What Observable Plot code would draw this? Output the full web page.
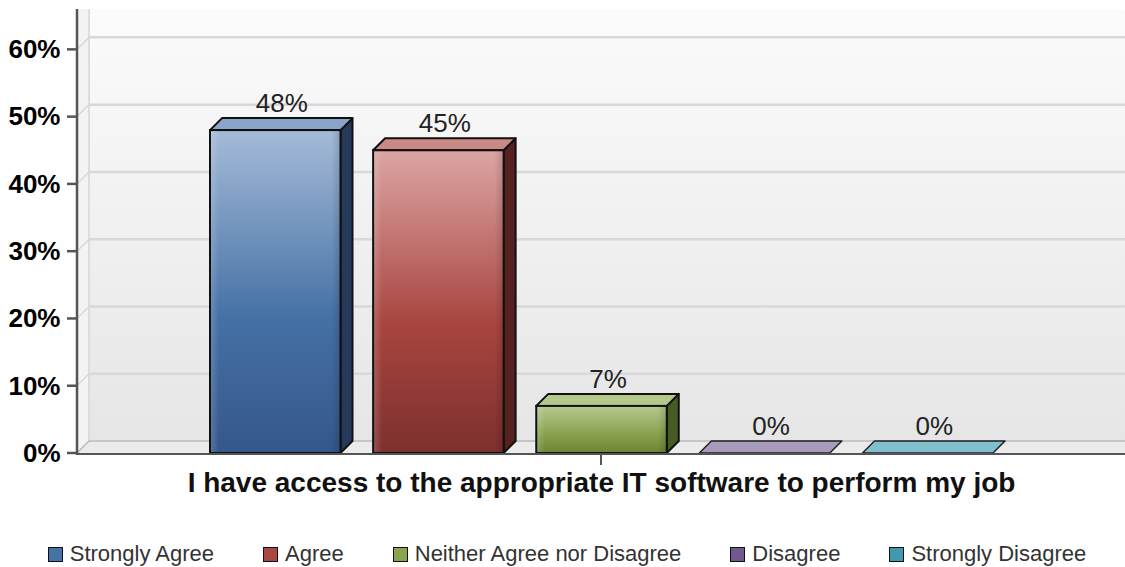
<!DOCTYPE html>
<html><head><meta charset="utf-8">
<script src="https://cdn.jsdelivr.net/npm/d3@7"></script>
<script src="https://cdn.jsdelivr.net/npm/@observablehq/plot@0.6"></script>
<style>
body{margin:0;background:#fff;font-family:"Liberation Sans",Arial,sans-serif;}
#chart{position:absolute;left:0;top:0;}
#legend{position:absolute;top:541px;left:0;width:1125px;box-sizing:border-box;padding-left:9px;display:flex;justify-content:center;gap:49px;font-size:22px;line-height:26px;color:#333;}
.item{display:flex;align-items:center;white-space:nowrap;}
.sw{width:13px;height:13px;border:1.5px solid #111;margin-right:7px;}
#chart svg g[aria-label^="y-axis"] text{font-size:26px;font-weight:bold;fill:#000;}
</style></head><body>
<div id="chart"></div><div id="legend"></div>
<script>
// ---- data ----
const question = "I have access to the appropriate IT software to perform my job";
const series = ["Strongly Agree", "Agree", "Neither Agree nor Disagree", "Disagree", "Strongly Disagree"];
const values = [48, 45, 7, 0, 0];
const valueLabels = ["48%", "45%", "7%", "0%", "0%"];
const yTicks = [0, 10, 20, 30, 40, 50, 60];

// ---- styles ----
const legendColors = ["#4572A7", "#AA4643", "#89A54E", "#71588F", "#4198AF"];
const frontTop = ["#a5bbd8", "#dba5a3", "#b6c990", "#b6a8c8", "#92c8d6"];
const frontMid = ["#4571a6", "#a8443f", "#89a34f", "#71588f", "#3d96ae"];
const frontBottom = ["#35578a", "#7e302e", "#6b8535", "#574470", "#2f7486"];
const topFace = ["#89a4c8", "#c98a86", "#b4c88c", "#a99abd", "#80bfce"];
const sideFace = ["#25395a", "#562220", "#475b25", "#3f3152", "#245866"];
const D = 12;

const data = series.map((s, i) => ({name: s, value: values[i], label: valueLabels[i], i}));

function walls(index, scales, vals, dims) {
  const {width, marginLeft, marginRight, marginTop} = dims;
  const x0 = marginLeft, x1 = width - marginRight, yt = marginTop, yb = scales.y(0);
  const g = d3.create("svg:g");
  const defs = g.append("defs");
  const bg = defs.append("linearGradient").attr("id", "wallGrad").attr("x1", 0).attr("y1", 0).attr("x2", 0).attr("y2", 1);
  bg.append("stop").attr("offset", "0%").attr("stop-color", "#fbfbfb");
  bg.append("stop").attr("offset", "100%").attr("stop-color", "#e5e5e5");
  g.append("rect").attr("x", x0).attr("y", yt).attr("width", x1 - x0).attr("height", yb - yt).attr("fill", "url(#wallGrad)");
  g.append("path").attr("d", `M${x0},${yt}L${x0 + D},${yt}L${x0 + D},${yb - D}L${x0},${yb}Z`).attr("fill", "#f3f3f3");
  g.append("line").attr("x1", x0 + D).attr("x2", x0 + D).attr("y1", yt).attr("y2", yb - D).attr("stroke", "#d6d6d6").attr("stroke-width", 1.5);
  g.append("path").attr("d", `M${x0},${yb}L${x0 + D},${yb - D}L${x1},${yb - D}L${x1},${yb}Z`).attr("fill", "#ebebeb");
  g.append("line").attr("x1", x0 + D).attr("x2", x1).attr("y1", yb - D).attr("y2", yb - D).attr("stroke", "#c6c6c6").attr("stroke-width", 2);
  g.append("line").attr("x1", x0).attr("x2", x0 + D).attr("y1", yb).attr("y2", yb - D).attr("stroke", "#b8b8b8").attr("stroke-width", 1.5);
  for (const t of yTicks) {
    if (t === 0) continue;
    const y = scales.y(t);
    g.append("line").attr("x1", x0 + D).attr("x2", x1).attr("y1", y - D).attr("y2", y - D).attr("stroke", "#d8d8d8").attr("stroke-width", 2.5);
    g.append("line").attr("x1", x0).attr("x2", x0 + D).attr("y1", y).attr("y2", y - D).attr("stroke", "#d8d8d8").attr("stroke-width", 1.5);
  }
  return g.node();
}

function bars3d(index, scales, vals, dims) {
  const {width, marginLeft, marginRight, marginTop} = dims;
  const x0 = marginLeft, x1 = width - marginRight, yt = marginTop, yb = scales.y(0);
  const bw = scales.x.bandwidth();
  const g = d3.create("svg:g");
  const defs = g.append("defs");
  data.forEach(d => {
    const lg = defs.append("linearGradient").attr("id", "front" + d.i).attr("x1", 0).attr("y1", 0).attr("x2", 0).attr("y2", 1);
    lg.append("stop").attr("offset", "0%").attr("stop-color", frontTop[d.i]);
    lg.append("stop").attr("offset", "58%").attr("stop-color", frontMid[d.i]);
    lg.append("stop").attr("offset", "100%").attr("stop-color", frontBottom[d.i]);
  });
  const sh = defs.append("linearGradient").attr("id", "bevel").attr("x1", 0).attr("y1", 0).attr("x2", 1).attr("y2", 0);
  sh.append("stop").attr("offset", "0%").attr("stop-color", "#fff").attr("stop-opacity", 0.18);
  sh.append("stop").attr("offset", "7%").attr("stop-color", "#fff").attr("stop-opacity", 0);
  sh.append("stop").attr("offset", "93%").attr("stop-color", "#000").attr("stop-opacity", 0);
  sh.append("stop").attr("offset", "100%").attr("stop-color", "#000").attr("stop-opacity", 0.15);
  for (const d of data) {
    const xl = scales.x(d.name), yTop = scales.y(d.value);
    if (d.value > 0) {
      g.append("path").attr("d", `M${xl + bw},${yTop}L${xl + bw + D},${yTop - D}L${xl + bw + D},${yb - D}L${xl + bw},${yb}Z`)
        .attr("fill", sideFace[d.i]).attr("stroke", "#111").attr("stroke-width", 2).attr("stroke-linejoin", "round");
      g.append("path").attr("d", `M${xl},${yTop}L${xl + D},${yTop - D}L${xl + bw + D},${yTop - D}L${xl + bw},${yTop}Z`)
        .attr("fill", topFace[d.i]).attr("stroke", "#111").attr("stroke-width", 2).attr("stroke-linejoin", "round");
      g.append("rect").attr("x", xl).attr("y", yTop).attr("width", bw).attr("height", yb - yTop)
        .attr("fill", `url(#front${d.i})`);
      g.append("rect").attr("x", xl).attr("y", yTop).attr("width", bw).attr("height", yb - yTop)
        .attr("fill", "url(#bevel)").attr("stroke", "#111").attr("stroke-width", 2);
    } else {
      g.append("path").attr("d", `M${xl},${yb}L${xl + D},${yb - D}L${xl + bw + D},${yb - D}L${xl + bw},${yb}Z`)
        .attr("fill", topFace[d.i]).attr("stroke", "#222").attr("stroke-width", 1.5).attr("stroke-linejoin", "round");
    }
  }
  g.append("line").attr("x1", x0).attr("x2", x1).attr("y1", yb + 1).attr("y2", yb + 1).attr("stroke", "#555").attr("stroke-width", 2);
  g.append("line").attr("x1", x0).attr("x2", x0).attr("y1", yt).attr("y2", yb + 2).attr("stroke", "#555").attr("stroke-width", 2.5);
  for (const t of yTicks) {
    const y = scales.y(t);
    g.append("line").attr("x1", x0 - 10).attr("x2", x0).attr("y1", y).attr("y2", y).attr("stroke", "#555").attr("stroke-width", 2.5);
  }
  const xc = (x0 + x1) / 2;
  g.append("line").attr("x1", xc).attr("x2", xc).attr("y1", yb + 1).attr("y2", yb + 12).attr("stroke", "#555").attr("stroke-width", 2);
  return g.node();
}

const chart = Plot.plot({
  width: 1125,
  height: 500,
  marginLeft: 77,
  marginRight: 0,
  marginTop: 9,
  marginBottom: 47,
  style: {fontFamily: '"Liberation Sans", Arial, sans-serif', fontSize: "26px", fontWeight: "bold", color: "#000", background: "transparent", overflow: "visible"},
  x: {type: "band", domain: series, range: [210, 993], paddingInner: 0.2, paddingOuter: 0, round: false, axis: null},
  y: {domain: [0, 66], ticks: yTicks, tickFormat: d => d + "%", tickSize: 0, tickPadding: 17, label: null},
  marks: [
    walls,
    bars3d,
    Plot.text(data, {x: "name", y: "value", text: "label", dx: 6, dy: -27, fontSize: 26, fontWeight: "normal", fill: "#222"}),
    Plot.text([question], {frameAnchor: "bottom", lineAnchor: "middle", text: d => d, dy: 30, fontSize: 28, fontWeight: "bold", fill: "#111"})
  ]
});
document.getElementById("chart").appendChild(chart);

const legend = d3.select("#legend");
series.forEach((s, i) => {
  const it = legend.append("div").attr("class", "item");
  it.append("div").attr("class", "sw").style("background", legendColors[i]);
  it.append("span").text(s);
});
</script>
</body></html>
